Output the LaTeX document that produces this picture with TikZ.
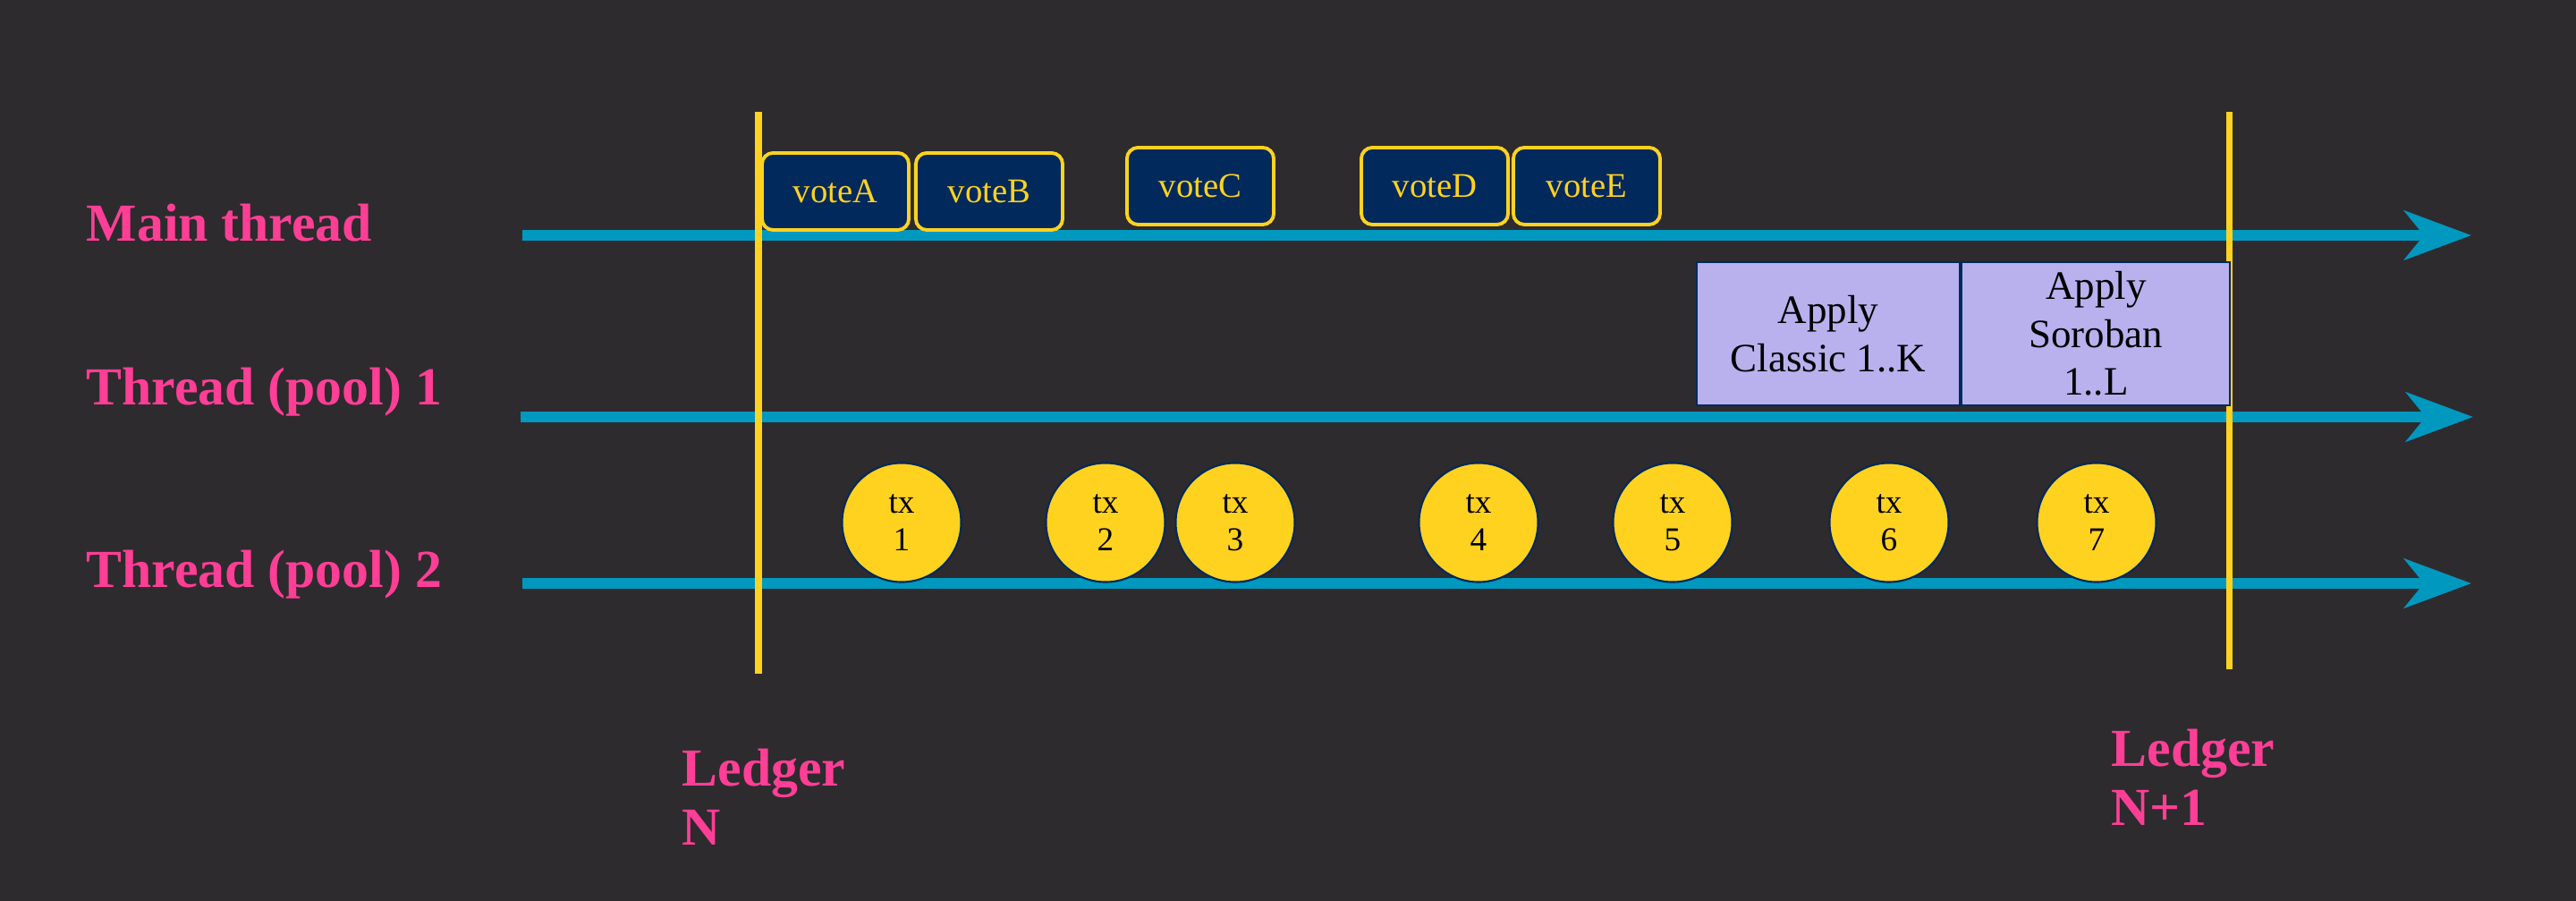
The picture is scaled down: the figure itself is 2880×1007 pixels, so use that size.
\documentclass[tikz,border=0pt]{standalone}
\usepackage{fontspec}
\setmainfont{Liberation Serif}
\usepackage{xcolor}
\usepackage{tikz}
\usetikzlibrary{arrows.meta, positioning}
\definecolor{bgdark}{RGB}{45, 43, 46}
\definecolor{lanepink}{RGB}{255, 62, 150}
\definecolor{laneteal}{RGB}{0, 152, 190}
\definecolor{ledgeryellow}{RGB}{255, 210, 32}
\definecolor{votenavy}{RGB}{2, 41, 92}
\definecolor{applylilac}{RGB}{185, 176, 238}
\tikzset{
    lanelabel/.style={font=\fontsize{17pt}{18.8pt}\selectfont\bfseries,
                      text=lanepink, inner sep=0pt, align=left},
    lane/.style={draw=laneteal, line width=3.2pt,
                 -{Stealth[length=7.5mm, width=5.5mm, inset=2.2mm]}},
    ledger/.style={draw=ledgeryellow, line width=2pt},
    votebox/.style={rectangle, rounded corners=3.5pt, draw=ledgeryellow,
                    fill=votenavy, text=ledgeryellow, line width=1.1pt,
                    minimum width=1.64cm, minimum height=0.86cm, inner sep=0pt,
                    font=\fontsize{11pt}{12.5pt}\selectfont},
    applybox/.style={rectangle, draw=votenavy, fill=applylilac, text=black,
                     line width=0.6pt, minimum height=1.6cm, inner sep=0pt,
                     align=center, font=\fontsize{12.8pt}{15.2pt}\selectfont},
    txball/.style={circle, draw=votenavy, fill=ledgeryellow, text=black,
                   minimum size=1.33cm, inner sep=0pt, line width=0.6pt,
                   align=center, font=\fontsize{10.6pt}{12pt}\selectfont},
}
\begin{document}
\begin{tikzpicture}[x=0.01cm, y=-0.01cm]
    % Background
    \fill[bgdark] (0,0) rectangle (2880,1007);

    % Thread labels
    \node[lanelabel, anchor=base west] (mainlbl) at (96,270) {Main thread};
    \node[lanelabel, anchor=base west] (pool1lbl) at (96,453) {Thread (pool) 1};
    \node[lanelabel, anchor=base west] (pool2lbl) at (96,657) {Thread (pool) 2};

    % Timelines
    \coordinate (mainS) at (584,263);
    \coordinate (mainE) at (2763,263);
    \coordinate (pool1S) at (582,466);
    \coordinate (pool1E) at (2765,466);
    \coordinate (pool2S) at (584,652);
    \coordinate (pool2E) at (2763,652);
    \draw[lane] (mainS) -- (mainE);
    \draw[lane] (pool1S) -- (pool1E);
    \draw[lane] (pool2S) -- (pool2E);

    % Ledger boundaries
    \coordinate (ledNtop) at (848,125);
    \coordinate (ledNbot) at (848,753);
    \coordinate (ledNNtop) at (2492,125);
    \coordinate (ledNNbot) at (2492,748);
    \draw[ledger] (ledNtop) -- (ledNbot);
    \draw[ledger] (ledNNtop) -- (ledNNbot);
    \node[lanelabel, anchor=north west] (ledN) at (762,836) {Ledger\\N};
    \node[lanelabel, anchor=north west] (ledNN) at (2360,814) {Ledger\\N+1};

    % Votes on the main thread
    \node[votebox] (voteA) at (934,214) {voteA};
    \node[votebox, right=0.04cm of voteA] (voteB) {voteB};
    \node[votebox] (voteC) at (1342,208) {voteC};
    \node[votebox] (voteD) at (1604,208) {voteD};
    \node[votebox, right=0.02cm of voteD] (voteE) {voteE};

    % Apply on pool thread 1
    \node[applybox, minimum width=2.94cm] (classic) at (2044,373)
        {Apply\\Classic 1..K};
    \node[applybox, minimum width=3.0cm, right=0pt of classic] (soroban)
        {Apply\\Soroban\\1..L};

    % Transactions on pool thread 2
    \node[txball] (tx1) at (1008,584) {tx\\1};
    \node[txball] (tx2) at (1236,584) {tx\\2};
    \node[txball] (tx3) at (1381,584) {tx\\3};
    \node[txball] (tx4) at (1653,584) {tx\\4};
    \node[txball] (tx5) at (1870,584) {tx\\5};
    \node[txball] (tx6) at (2112,584) {tx\\6};
    \node[txball] (tx7) at (2344,584) {tx\\7};
\end{tikzpicture}
\end{document}
